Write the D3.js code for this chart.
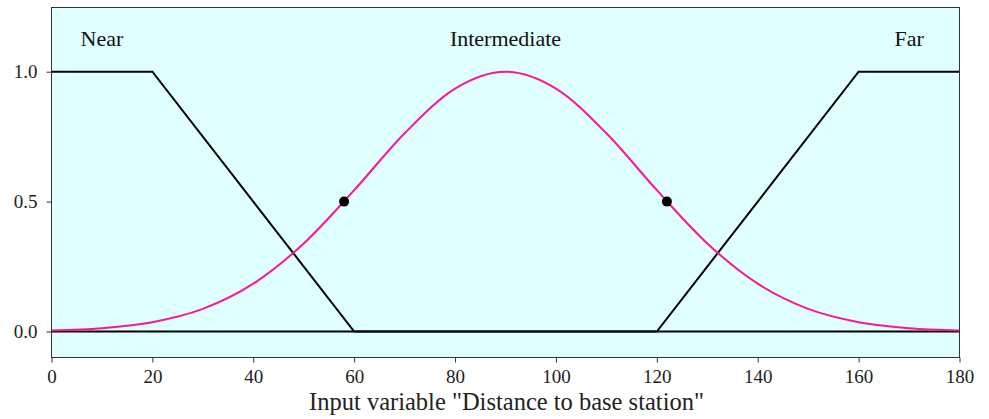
<!DOCTYPE html>
<html><head><meta charset="utf-8">
<script src="https://cdn.jsdelivr.net/npm/d3@7"></script>
<style>body{margin:0;background:#fff}svg{display:block}</style>
</head><body>
<svg id="c" width="989" height="419"></svg>
<script>
const xTicks = [0,20,40,60,80,100,120,140,160,180];
const yTicks = [0,0.5,1.0];
const nearPts = [[0,1],[20,1],[60,0],[180,0]];
const farPts = [[0,0],[120,0],[160,1],[180,1]];
const interX = [0,10,20,30,40,50,60,70,80,90,100,110,120,130,140,150,160,170,180];
const interY = [0.004,0.013,0.036,0.087,0.184,0.339,0.544,0.763,0.935,1.0,0.935,0.763,0.544,0.339,0.184,0.087,0.036,0.013,0.004];
const markers = [[58,0.5],[122,0.5]];
const labels = [{t:"Near",x:10},{t:"Intermediate",x:90},{t:"Far",x:170}];
const xTitle = 'Input variable "Distance to base station"';

const svg = d3.select("#c");
const L=51.5, R=959.5, T=7.5, B=357.5;
const x = d3.scaleLinear().domain([0,180]).range([L,R]);
const y = d3.scaleLinear().domain([-0.1,1.247]).range([B,T]);
const font = "'Liberation Serif','Times New Roman',serif";

svg.append("rect").attr("x",L).attr("y",T).attr("width",R-L).attr("height",B-T).attr("fill","#e0ffff");

const line = d3.line().x(d=>x(d[0])).y(d=>y(d[1]));
svg.append("path").datum(nearPts).attr("d",line).attr("fill","none").attr("stroke","#000").attr("stroke-width",2);
svg.append("path").datum(farPts).attr("d",line).attr("fill","none").attr("stroke","#000").attr("stroke-width",2);
const inter = interX.map((v,i)=>[v,interY[i]]);
svg.append("path").datum(inter).attr("d",line.curve(d3.curveMonotoneX)).attr("fill","none").attr("stroke","#ff1493").attr("stroke-width",2);
svg.selectAll("circle.m").data(markers).join("circle").attr("cx",d=>x(d[0])).attr("cy",d=>y(d[1])).attr("r",5).attr("fill","#000");

svg.selectAll("text.lab").data(labels).join("text").attr("x",d=>x(d.x)).attr("y",46).attr("text-anchor","middle")
  .attr("font-family",font).attr("font-size",22).attr("fill","#111").text(d=>d.t);

const xa = svg.append("g").attr("transform",`translate(0,${B})`).call(d3.axisBottom(x).tickValues(xTicks).tickSize(5).tickPadding(7));
const ya = svg.append("g").attr("transform",`translate(${L},0)`).call(d3.axisLeft(y).tickValues(yTicks).tickFormat(d3.format(".1f")).tickSize(5).tickPadding(9));
[xa,ya].forEach(a=>{a.select(".domain").remove();a.selectAll("text").attr("font-family",font).attr("font-size",19).attr("fill","#222");a.selectAll("line").attr("stroke","#333");});

svg.append("rect").attr("x",L).attr("y",T).attr("width",R-L).attr("height",B-T).attr("fill","none").attr("stroke","#333").attr("stroke-width",1);

svg.append("text").attr("x",(L+R)/2 + 1).attr("y",410).attr("text-anchor","middle").attr("font-family",font).attr("font-size",24.5).attr("fill","#222").text(xTitle);
</script>
</body></html>
